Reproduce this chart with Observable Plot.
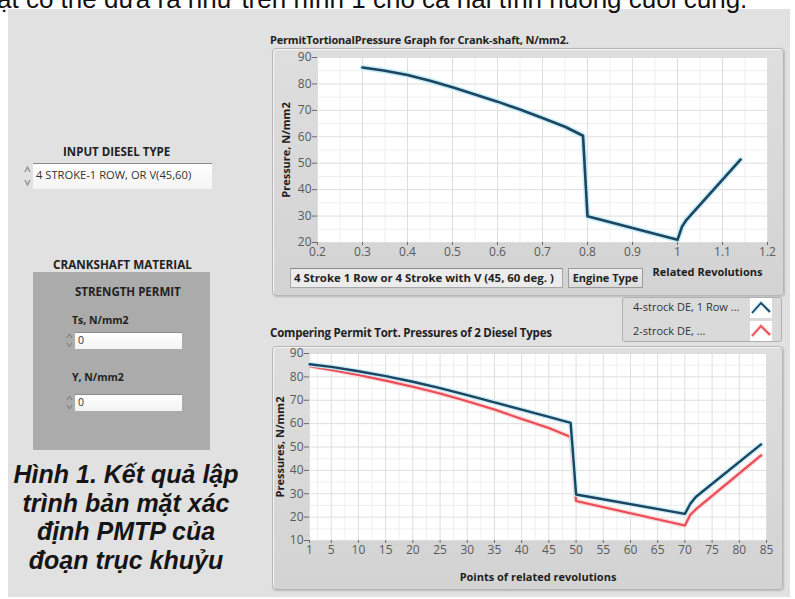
<!DOCTYPE html>
<html><head><meta charset="utf-8">
<script src="https://cdn.jsdelivr.net/npm/d3@7"></script>
<script src="https://cdn.jsdelivr.net/npm/@observablehq/plot@0.6"></script>
<style>
html,body{margin:0;padding:0;width:795px;height:599px;overflow:hidden;background:#fff;font-family:"Open Sans",sans-serif;}
#page{position:relative;width:795px;height:599px;}
.abs{position:absolute;}
.topline{left:-3px;top:-16px;font:26px "Liberation Sans",Arial,sans-serif;color:#111;white-space:nowrap;z-index:5;}
.panel{left:8px;top:9px;width:782px;height:588px;background:#e1e1e1;}
.frame{background:linear-gradient(#dedede,#d3d3d3);border:1px solid #b6b6b6;border-radius:4px;box-shadow:inset 1px 1px 0 #f5f5f5,1px 1px 2px rgba(0,0,0,.18);box-sizing:border-box;}
.b{font-weight:700;color:#222;white-space:nowrap;line-height:14px;}
.t{color:#333;white-space:nowrap;line-height:14px;}
.inp{background:linear-gradient(#ffffff,#f3f3f3);border-top:1px solid #8d8d8d;box-sizing:border-box;}
.chart svg g[aria-label$="axis label"] text{font-weight:700;fill:#1e1e1e;font-size:11px;}
.chart svg g[aria-label$="tick label"]{fill:#5a5a5a;}
.caption{left:0;top:460px;width:252px;text-align:center;font:italic 700 25px/28.5px "Liberation Sans",Arial,sans-serif;color:#151515;}
</style></head>
<body><div id="page">
<div class="abs topline">ặt có thể đưa ra như trên hình 1 cho cả hai tình huống cuối cùng.</div>
<div class="abs panel"></div>

<div class="abs b" style="left:63px;top:145px;font-size:11.5px;">INPUT DIESEL TYPE</div>
<svg class="abs" style="left:23px;top:163px" width="9" height="26"><path d="M2,9 L4.5,4 L7,9" fill="none" stroke="#888" stroke-width="1.2"/><path d="M2,17 L4.5,22 L7,17" fill="none" stroke="#888" stroke-width="1.2"/></svg>
<div class="abs inp" style="left:33px;top:163px;width:179px;height:26px;"></div>
<div class="abs t" style="left:36px;top:168px;font-size:11.2px;">4 STROKE-1 ROW, OR V(45,60)</div>

<div class="abs b" style="left:53px;top:257px;font-size:11.7px;">CRANKSHAFT MATERIAL</div>
<div class="abs" style="left:33px;top:272px;width:177px;height:178px;background:#ababab;"></div>
<div class="abs b" style="left:75px;top:285px;font-size:11.5px;">STRENGTH PERMIT</div>
<div class="abs b" style="left:72px;top:313px;font-size:10.5px;">Ts, N/mm2</div>
<svg class="abs" style="left:65px;top:332px" width="9" height="17"><path d="M2,6 L4.5,2 L7,6" fill="none" stroke="#777" stroke-width="1"/><path d="M2,11 L4.5,15 L7,11" fill="none" stroke="#777" stroke-width="1"/></svg>
<div class="abs inp" style="left:75px;top:332px;width:107px;height:17px;"></div>
<div class="abs t" style="left:78px;top:333px;font-size:10.5px;">0</div>
<div class="abs b" style="left:72px;top:370px;font-size:10.5px;">Y, N/mm2</div>
<svg class="abs" style="left:65px;top:394px" width="9" height="17"><path d="M2,6 L4.5,2 L7,6" fill="none" stroke="#777" stroke-width="1"/><path d="M2,11 L4.5,15 L7,11" fill="none" stroke="#777" stroke-width="1"/></svg>
<div class="abs inp" style="left:75px;top:394px;width:107px;height:17px;"></div>
<div class="abs t" style="left:78px;top:395px;font-size:10.5px;">0</div>

<div class="abs caption">Hình 1. Kết quả lập<br>trình bản mặt xác<br>định PMTP của<br>đoạn trục khuỷu</div>

<div class="abs b" style="left:270px;top:33px;font-size:11px;letter-spacing:-0.2px;">PermitTortionalPressure Graph for Crank-shaft, N/mm2.</div>
<div class="abs frame" style="left:272px;top:48px;width:512px;height:248px;"></div>
<div class="abs chart" id="top" style="left:272px;top:48px;"></div>
<div class="abs" style="left:290px;top:268px;width:273px;height:20px;background:#ececec;border:1px solid #a8a8a8;border-top-color:#8a8a8a;box-sizing:border-box;"></div>
<div class="abs b" style="left:294px;top:271px;font-size:11.4px;">4 Stroke 1 Row or 4 Stroke with V (45, 60 deg. )</div>
<div class="abs" style="left:568px;top:268px;width:75px;height:20px;background:linear-gradient(#ececec,#dcdcdc);border:1px solid #9c9c9c;box-sizing:border-box;"></div>
<div class="abs b" style="left:568px;top:271px;width:75px;text-align:center;font-size:11px;">Engine Type</div>

<div class="abs" style="left:622px;top:297px;width:160px;height:45px;background:#dadada;border:1px solid #b0b0b0;border-radius:3px;box-sizing:border-box;"></div>
<div class="abs t" style="left:633px;top:300px;font-size:11px;">4-strock DE, 1 Row ...</div>
<div class="abs t" style="left:633px;top:324px;font-size:11px;">2-strock DE, ...</div>
<svg class="abs" style="left:750px;top:298px" width="22" height="20"><rect width="22" height="20" fill="#fff"/><polyline points="2,15 11,5 20,14" fill="none" stroke="#c4ecf8" stroke-width="4"/><polyline points="2,15 11,5 20,14" fill="none" stroke="#1d4560" stroke-width="1.8"/></svg>
<svg class="abs" style="left:750px;top:321px" width="22" height="20"><rect width="22" height="20" fill="#fff"/><polyline points="2,15 11,5 20,14" fill="none" stroke="#ffd6d6" stroke-width="4"/><polyline points="2,15 11,5 20,14" fill="none" stroke="#e94b57" stroke-width="1.8"/></svg>

<div class="abs b" style="left:270px;top:326px;font-size:11.5px;letter-spacing:-0.2px;">Compering Permit Tort. Pressures of 2 Diesel Types</div>
<div class="abs frame" style="left:272px;top:346px;width:511px;height:244px;"></div>
<div class="abs chart" id="bottom" style="left:272px;top:346px;"></div>
</div>
<script>
// ---- Top graph: permit torsional pressure vs related revolutions ----
const topRevolutions = [0.30, 0.35, 0.40, 0.45, 0.50, 0.55, 0.60, 0.65, 0.70, 0.75, 0.79, 0.80, 1.00, 1.01, 1.02, 1.14];
const topPressure    = [86.2, 85.0, 83.4, 81.2, 78.7, 76.0, 73.3, 70.3, 67.1, 63.8, 60.4, 29.9, 21, 26, 28.6, 51.4];
const topXTicks = [0.2, 0.3, 0.4, 0.5, 0.6, 0.7, 0.8, 0.9, 1, 1.1, 1.2];
const topYTicks = [20, 30, 40, 50, 60, 70, 80, 90];
const topXMinor = [0.25, 0.35, 0.45, 0.55, 0.65, 0.75, 0.85, 0.95, 1.05, 1.15];
const topYMinor = [25, 35, 45, 55, 65, 75, 85];
const topXLabel = "Related Revolutions";

// ---- Bottom graph: comparison of two diesel types ----
const points     = [1, 5, 10, 15, 20, 25, 30, 35, 40, 45, 49, 50, 70, 71, 72, 84];
const fourStroke = [85.4, 84.3, 82.4, 80.3, 77.9, 75.2, 72.2, 69.1, 66.0, 62.9, 60.3, 29.7, 21.4, 25.7, 28.6, 51.1];
const twoStroke  = [84.6, 83.0, 80.8, 78.4, 75.8, 72.9, 69.6, 66.0, 62.0, 58.1, 54.3, 26.9, 16.4, 21, 23.3, 46.4];
const seriesNames = ["4-strock DE, 1 Row ...", "2-strock DE, ..."];
const botXTicks = [1, 5, 10, 15, 20, 25, 30, 35, 40, 45, 50, 55, 60, 65, 70, 75, 80, 85];
const botYTicks = [10, 20, 30, 40, 50, 60, 70, 80, 90];
const botXMinor = [2.5, 7.5, 12.5, 17.5, 22.5, 27.5, 32.5, 37.5, 42.5, 47.5, 52.5, 57.5, 62.5, 67.5, 72.5, 77.5, 82.5];
const botYMinor = [15, 25, 35, 45, 55, 65, 75, 85];

const blueDark = "#1d4560", blueGlow = "#c4ecf8";
const redDark = "#e94b57", redGlow = "#ffd3d3";
const fmt = d => String(+(+d).toFixed(2));
const baseStyle = {background: "transparent", fontFamily: "'Open Sans', sans-serif", fontSize: "12px", color: "#6a6a6a", overflow: "visible"};

const topData = topRevolutions.map((r, i) => ({r, p: topPressure[i]}));
const topPlot = Plot.plot({
  width: 512, height: 248,
  marginLeft: 45, marginRight: 17, marginTop: 9, marginBottom: 54,
  style: baseStyle,
  x: {domain: [0.2, 1.2]},
  y: {domain: [20, 90]},
  marks: [
    Plot.frame({fill: "white", stroke: "#cdcdcd"}),
    Plot.gridX(topXMinor, {stroke: "#efefef", strokeOpacity: 1}),
    Plot.gridY(topYMinor, {stroke: "#efefef", strokeOpacity: 1}),
    Plot.gridX(topXTicks, {stroke: "#dedede", strokeOpacity: 1}),
    Plot.gridY(topYTicks, {stroke: "#dedede", strokeOpacity: 1}),
    Plot.line(topData, {x: "r", y: "p", stroke: blueGlow, strokeWidth: 5.5}),
    Plot.line(topData, {x: "r", y: "p", stroke: blueDark, strokeWidth: 2.6}),
    Plot.axisX(topXTicks, {tickSize: 3, tickPadding: 2, tickFormat: fmt, label: null}),
    Plot.text([topXLabel], {frameAnchor: "bottom-right", dy: 33, dx: -5, textAnchor: "end", fontWeight: "bold", fontSize: 11, fill: "#1e1e1e"}),
    Plot.axisY(topYTicks, {tickSize: 5, tickPadding: 1, label: "Pressure, N/mm2", labelAnchor: "center", labelOffset: 35, labelArrow: "none"})
  ]
});
document.getElementById("top").appendChild(topPlot);

const botData = [];
points.forEach((n, i) => botData.push({n, p: twoStroke[i], s: seriesNames[1]}));
points.forEach((n, i) => botData.push({n, p: fourStroke[i], s: seriesNames[0]}));
const botPlot = Plot.plot({
  width: 511, height: 244,
  marginLeft: 37, marginRight: 17, marginTop: 7, marginBottom: 50,
  style: baseStyle,
  x: {domain: [1, 85]},
  y: {domain: [10, 90]},
  color: {domain: seriesNames, range: [blueDark, redDark]},
  marks: [
    Plot.frame({fill: "white", stroke: "#cdcdcd"}),
    Plot.gridX(botXMinor, {stroke: "#efefef", strokeOpacity: 1}),
    Plot.gridY(botYMinor, {stroke: "#efefef", strokeOpacity: 1}),
    Plot.gridX(botXTicks, {stroke: "#dedede", strokeOpacity: 1}),
    Plot.gridY(botYTicks, {stroke: "#dedede", strokeOpacity: 1}),
    Plot.line(botData.filter(d => d.s === seriesNames[1]), {x: "n", y: "p", stroke: redGlow, strokeWidth: 4.5}),
    Plot.line(botData.filter(d => d.s === seriesNames[1]), {x: "n", y: "p", stroke: "s", strokeWidth: 2.1}),
    Plot.line(botData.filter(d => d.s === seriesNames[0]), {x: "n", y: "p", stroke: blueGlow, strokeWidth: 4.8}),
    Plot.line(botData.filter(d => d.s === seriesNames[0]), {x: "n", y: "p", stroke: "s", strokeWidth: 2.4}),
    Plot.axisX(botXTicks, {tickSize: 3, tickPadding: 2, label: "Points of related revolutions", labelAnchor: "center", labelOffset: 40, labelArrow: "none"}),
    Plot.axisY(botYTicks, {tickSize: 5, tickPadding: 1, label: "Pressures, N/mm2", labelAnchor: "center", labelOffset: 33, labelArrow: "none"})
  ]
});
document.getElementById("bottom").appendChild(botPlot);
</script>
</body></html>
